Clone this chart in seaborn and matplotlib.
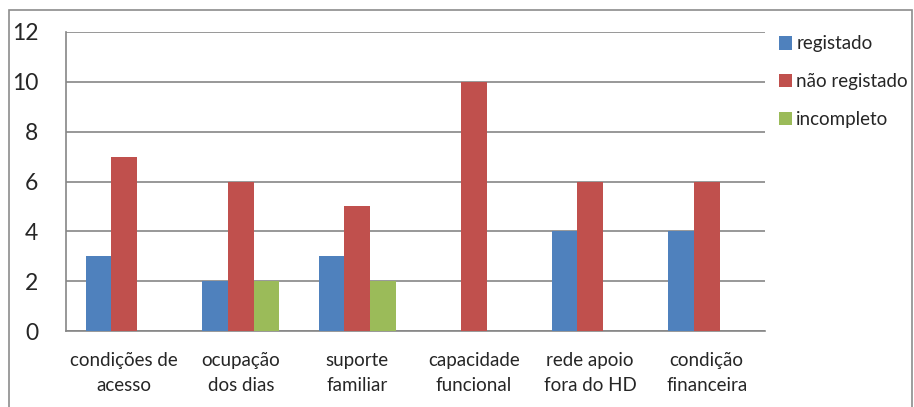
import matplotlib
matplotlib.use("Agg")
import matplotlib.pyplot as plt
from matplotlib.patches import Rectangle
import seaborn as sns
import pandas as pd

categories = ["condições de\nacesso", "ocupação\ndos dias", "suporte\nfamiliar",
              "capacidade\nfuncional", "rede apoio\nfora do HD", "condição\nfinanceira"]
series = ["registado", "não registado", "incompleto"]
registado = [3, 2, 3, 0, 4, 4]
nao_registado = [7, 6, 5, 10, 6, 6]
incompleto = [0, 2, 2, 0, 0, 0]
y_ticks = [0, 2, 4, 6, 8, 10, 12]

colors = ["#4F81BD", "#C0504D", "#9BBB59"]
grid_color = "#868686"

rows = []
for name, vals in zip(series, [registado, nao_registado, incompleto]):
    for cat, v in zip(categories, vals):
        rows.append({"categoria": cat, "serie": name, "valor": v})
df = pd.DataFrame(rows)

sns.set_style("white")
plt.rcParams["font.family"] = ["Lato", "DejaVu Sans"]

W, H = 914, 407
fig = plt.figure(figsize=(W / 100, H / 100), dpi=100)
ax = fig.add_axes([66 / W, 76 / H, (765 - 66) / W, (331 - 32) / H])

sns.barplot(data=df, x="categoria", y="valor", hue="serie", hue_order=series,
            order=categories, palette=colors, width=0.66, gap=0,
            saturation=1, edgecolor="none", linewidth=0, ax=ax, zorder=3)

ax.set_ylim(0, 12)
ax.set_xlim(-0.5, len(categories) - 0.5)
ax.set_yticks(y_ticks)
ax.set_yticklabels([str(t) for t in y_ticks], fontsize=16.5)
ax.yaxis.grid(True, color=grid_color, linewidth=1.2, zorder=0)
ax.set_axisbelow(True)

# category labels centred, tick marks at category boundaries
ax.set_xticks([i - 0.5 for i in range(len(categories) + 1)])
ax.set_xticklabels([""] * (len(categories) + 1))
ax.set_xticks(range(len(categories)), minor=True)
ax.set_xticklabels(categories, minor=True, fontsize=13.5, linespacing=1.55)
ax.tick_params(axis="x", which="major", length=6, width=1.2, color=grid_color, direction="out")
ax.tick_params(axis="x", which="minor", length=0, pad=15)
ax.tick_params(axis="y", length=8, width=1.2, color=grid_color, direction="out", pad=12)

ax.set_xlabel("")
ax.set_ylabel("")
for side in ["top", "right"]:
    ax.spines[side].set_visible(False)
for side in ["left", "bottom"]:
    ax.spines[side].set_color(grid_color)
    ax.spines[side].set_linewidth(1.2)

leg = ax.legend(title=None, loc="upper left", bbox_to_anchor=(771 / W, 1 - 28 / H),
                bbox_transform=fig.transFigure, frameon=False, fontsize=13.5,
                handlelength=0.7, handleheight=0.7, handletextpad=0.25,
                labelspacing=1.1, borderaxespad=0)

# outer chart border
fig.patches.append(Rectangle((9 / W, -0.05), (912 - 9) / W, 1.05 - 10 / H,
                             transform=fig.transFigure, fill=False,
                             edgecolor="#8C8C8C", linewidth=1.2))

fig.savefig("out.png", dpi=100)
